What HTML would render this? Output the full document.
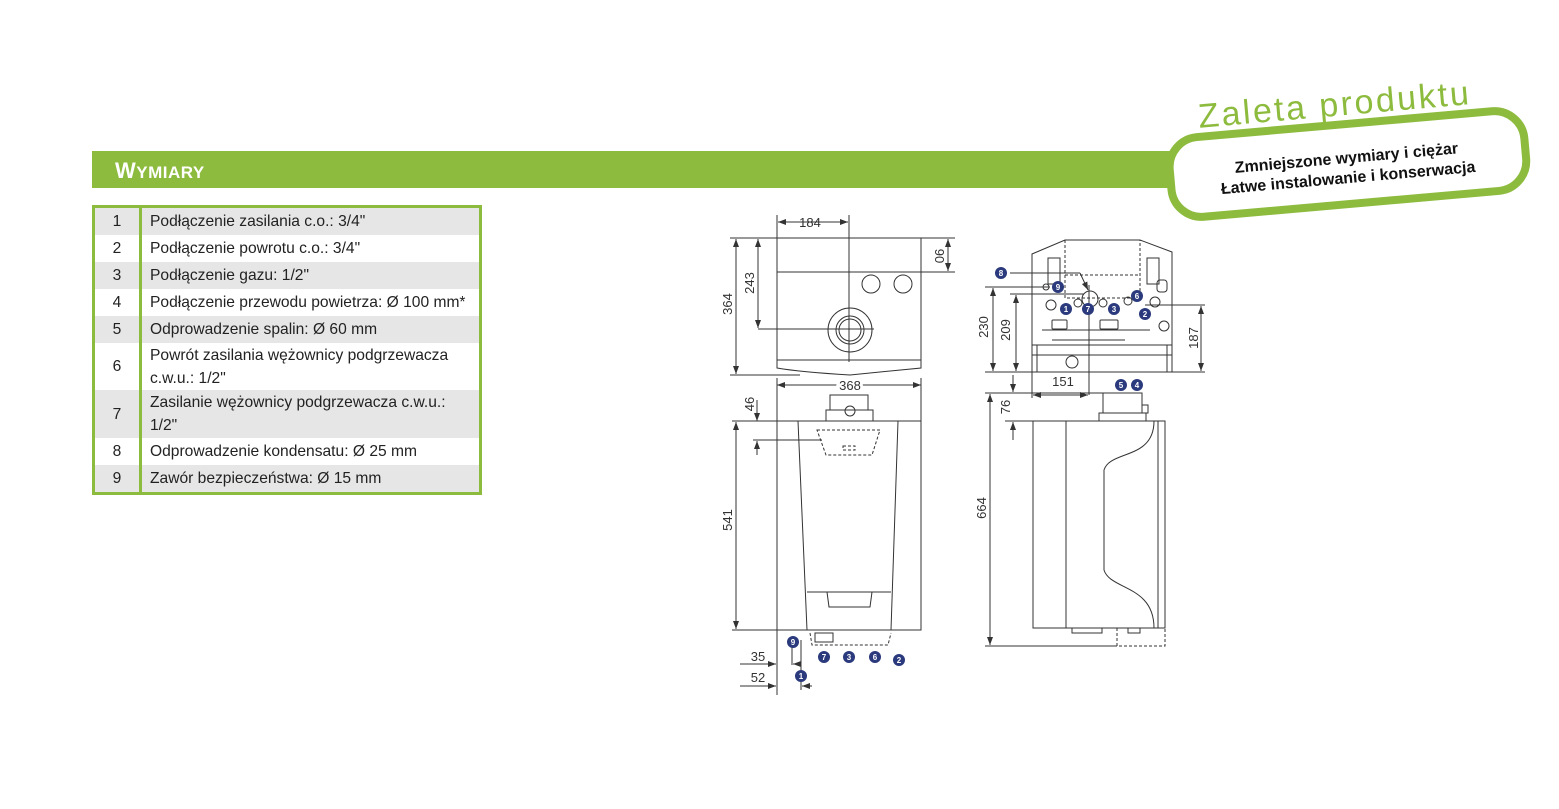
<!DOCTYPE html>
<html><head><meta charset="utf-8"><style>
html,body{margin:0;padding:0;background:#fff;width:1559px;height:809px;overflow:hidden;position:relative;font-family:"Liberation Sans",sans-serif}
.bar{position:absolute;left:92px;top:151px;width:1100px;height:37px;background:#8dbb3e}
.bar span{position:absolute;left:23px;top:7px;color:#fff;font-weight:bold;font-size:22px;letter-spacing:0.5px}
.bar small{font-size:17px}
table{position:absolute;left:92px;top:205px;width:390px;border-collapse:collapse;table-layout:fixed;border:3px solid #8dbb3e;font-size:15.6px;color:#222}
td{padding:0 0 0 8px;line-height:23px;height:27px;white-space:nowrap}
td.n{padding:0;text-align:center;border-right:3px solid #8dbb3e}
tr.g td{background:#e6e6e6}
svg{position:absolute;left:0;top:0}
</style></head><body>
<div class="bar"><span>W<small>YMIARY</small></span></div>
<table>
<colgroup><col style="width:47px"><col></colgroup>
<tr class="g"><td class="n">1</td><td>Podłączenie zasilania c.o.: 3/4"</td></tr>
<tr><td class="n">2</td><td>Podłączenie powrotu c.o.: 3/4"</td></tr>
<tr class="g"><td class="n">3</td><td>Podłączenie gazu: 1/2"</td></tr>
<tr><td class="n">4</td><td>Podłączenie przewodu powietrza: Ø 100 mm*</td></tr>
<tr class="g"><td class="n">5</td><td>Odprowadzenie spalin: Ø 60 mm</td></tr>
<tr><td class="n">6</td><td style="height:47px">Powrót zasilania wężownicy podgrzewacza<br>c.w.u.: 1/2"</td></tr>
<tr class="g"><td class="n">7</td><td style="height:48px">Zasilanie wężownicy podgrzewacza c.w.u.:<br>1/2"</td></tr>
<tr><td class="n">8</td><td>Odprowadzenie kondensatu: Ø 25 mm</td></tr>
<tr class="g"><td class="n">9</td><td>Zawór bezpieczeństwa: Ø 15 mm</td></tr>
</table>
<svg width="1559" height="809" font-family="Liberation Sans, sans-serif">
<defs>
<marker id="a" markerWidth="8" markerHeight="6" refX="8" refY="3" orient="auto-start-reverse"><path d="M0,0L8,3L0,6z" fill="#333"/></marker>
</defs>
<g transform="rotate(-5 1348 165)">
<rect x="1170" y="124" width="356" height="80" rx="30" fill="#fff" stroke="#8dbb3e" stroke-width="8"/>
<text x="1340" y="115" font-size="34" fill="#8dbb3e" text-anchor="middle" letter-spacing="2.5">Zaleta produktu</text>
<text x="1347" y="163" font-size="16" font-weight="bold" text-anchor="middle" fill="#111">Zmniejszone wymiary i ciężar</text>
<text x="1347" y="183" font-size="16" font-weight="bold" text-anchor="middle" fill="#111">Łatwe instalowanie i konserwacja</text>
</g>
<g stroke="#333" fill="none" stroke-width="1">
<path d="M777,238H921V368Q880,372 850,375Q800,372 777,368Z"/>
<line x1="777" y1="272" x2="921" y2="272"/><line x1="777" y1="360" x2="921" y2="360"/>
<circle cx="871" cy="284" r="9"/><circle cx="903" cy="284" r="9"/>
<circle cx="850" cy="330" r="22"/><circle cx="850" cy="330" r="14"/><circle cx="850" cy="330" r="11"/>
<line x1="849" y1="215" x2="849" y2="362"/><line x1="758" y1="329" x2="874" y2="329"/>
<line x1="778" y1="222" x2="848" y2="222" marker-start="url(#a)" marker-end="url(#a)"/>
<line x1="777" y1="215" x2="777" y2="238"/>
<line x1="921" y1="238" x2="955" y2="238"/><line x1="921" y1="272" x2="955" y2="272"/>
<line x1="948" y1="239" x2="948" y2="271" marker-start="url(#a)" marker-end="url(#a)"/>
<line x1="730" y1="238" x2="777" y2="238"/><line x1="730" y1="375" x2="800" y2="375"/>
<line x1="736" y1="239" x2="736" y2="374" marker-start="url(#a)" marker-end="url(#a)"/>
<line x1="758" y1="239" x2="758" y2="328" marker-start="url(#a)" marker-end="url(#a)"/>
<line x1="777" y1="385" x2="921" y2="385" marker-start="url(#a)" marker-end="url(#a)"/>
<line x1="777" y1="378" x2="777" y2="421"/><line x1="921" y1="378" x2="921" y2="421"/>
<rect x="777" y="421" width="144" height="209"/>
<rect x="830" y="395" width="38" height="15"/><rect x="826" y="410" width="47" height="11"/>
<circle cx="850" cy="411" r="5"/>
<path d="M798,421L807,630M898,421L891,630M807,592H891M827,592L829,607H870L872,592"/>
<path d="M817,430H880L872,455H826Z M843,446h12v4h-12z" stroke-dasharray="3,2"/>
<path d="M810,633L812,645H888L891,633" stroke-dasharray="3,2"/>
<rect x="815" y="633" width="18" height="9"/>
<line x1="732" y1="421" x2="777" y2="421"/><line x1="732" y1="630" x2="777" y2="630"/>
<line x1="736" y1="422" x2="736" y2="629" marker-start="url(#a)" marker-end="url(#a)"/>
<line x1="753" y1="440" x2="822" y2="440"/>
<line x1="757" y1="400" x2="757" y2="421" marker-end="url(#a)"/><line x1="757" y1="455" x2="757" y2="441" marker-end="url(#a)"/>
<line x1="777" y1="630" x2="777" y2="695"/><line x1="792" y1="645" x2="792" y2="665"/><line x1="801" y1="640" x2="801" y2="690"/>
<line x1="740" y1="664" x2="776" y2="664" marker-end="url(#a)"/><line x1="800" y1="664" x2="793" y2="664" marker-end="url(#a)"/>
<line x1="740" y1="686" x2="776" y2="686" marker-end="url(#a)"/><line x1="812" y1="686" x2="802" y2="686" marker-end="url(#a)"/>
<path d="M1032,372V254L1065,240H1140L1172,252V372Z"/>
<path d="M1065,240V298H1140V240 M1065,275H1140" stroke-dasharray="3,2"/>
<path d="M1032,345H1172M1037,345V372M1167,345V372M1032,355H1172M1042,330H1150M1052,340H1125"/>
<rect x="1052" y="320" width="15" height="9" rx="1"/><rect x="1100" y="320" width="18" height="9" rx="1"/>
<circle cx="1072" cy="362" r="6"/><circle cx="1090" cy="299" r="8"/>
<circle cx="1051" cy="305" r="5"/><circle cx="1078" cy="303" r="4"/><circle cx="1103" cy="303" r="4"/><circle cx="1128" cy="301" r="4"/><circle cx="1155" cy="302" r="5"/><circle cx="1046" cy="287" r="3"/><circle cx="1164" cy="326" r="5"/>
<rect x="1157" y="280" width="10" height="12" rx="3"/><rect x="1048" y="258" width="12" height="26"/><rect x="1147" y="258" width="12" height="26"/>
<line x1="1010" y1="273" x2="1080" y2="273"/><line x1="1080" y1="273" x2="1088" y2="290" marker-end="url(#a)"/>
<line x1="1089" y1="285" x2="1089" y2="395"/>
<line x1="985" y1="287" x2="1050" y2="287"/><line x1="1010" y1="294" x2="1084" y2="294"/><line x1="1145" y1="305" x2="1205" y2="305"/>
<line x1="985" y1="372" x2="1032" y2="372"/><line x1="1172" y1="372" x2="1205" y2="372"/>
<line x1="993" y1="288" x2="993" y2="371" marker-start="url(#a)" marker-end="url(#a)"/>
<line x1="1016" y1="295" x2="1016" y2="371" marker-start="url(#a)" marker-end="url(#a)"/>
<line x1="1201" y1="306" x2="1201" y2="371" marker-start="url(#a)" marker-end="url(#a)"/>
<line x1="1033" y1="395" x2="1088" y2="395" marker-start="url(#a)" marker-end="url(#a)"/><line x1="1032" y1="372" x2="1032" y2="398"/>
<rect x="1033" y="421" width="132" height="207"/>
<line x1="1066" y1="421" x2="1066" y2="628"/><line x1="1158" y1="421" x2="1158" y2="628"/>
<path d="M1154,421C1154,460 1110,450 1104,470V570C1110,590 1154,585 1154,628"/>
<rect x="1103" y="393" width="39" height="20"/><rect x="1099" y="413" width="47" height="8"/><rect x="1142" y="405" width="6" height="8"/>
<rect x="1072" y="628" width="30" height="5"/><rect x="1128" y="628" width="12" height="5"/>
<path d="M1117,628V646H1165V628" stroke-dasharray="3,2"/>
<line x1="985" y1="393" x2="1103" y2="393"/><line x1="1005" y1="421" x2="1033" y2="421"/><line x1="985" y1="646" x2="1117" y2="646"/>
<line x1="990" y1="394" x2="990" y2="645" marker-start="url(#a)" marker-end="url(#a)"/>
<line x1="1013" y1="375" x2="1013" y2="392" marker-end="url(#a)"/><line x1="1013" y1="440" x2="1013" y2="422" marker-end="url(#a)"/>
</g>
<g font-size="13" fill="#333" text-anchor="middle">
<text x="810" y="227">184</text><text x="850" y="390" style="paint-order:stroke" stroke="#fff" stroke-width="6">368</text>
<text x="1063" y="386">151</text>
<text transform="translate(935,256) rotate(90)">90</text>
<text transform="translate(732,304) rotate(-90)">364</text>
<text transform="translate(754,283) rotate(-90)">243</text>
<text transform="translate(732,520) rotate(-90)">541</text>
<text transform="translate(754,404) rotate(-90)">46</text>
<text transform="translate(988,327) rotate(-90)">230</text>
<text transform="translate(1010,330) rotate(-90)">209</text>
<text transform="translate(1198,338) rotate(-90)">187</text>
<text transform="translate(986,508) rotate(-90)">664</text>
<text transform="translate(1010,407) rotate(-90)">76</text>
<text x="758" y="661">35</text><text x="758" y="682">52</text>
</g>
<g font-size="8" font-weight="bold" fill="#fff" text-anchor="middle">
<g fill="#2b3a7d"><circle cx="793" cy="642" r="6"/><circle cx="824" cy="657" r="6"/><circle cx="849" cy="657" r="6"/><circle cx="875" cy="657" r="6"/><circle cx="899" cy="660" r="6"/><circle cx="801" cy="676" r="6"/>
<circle cx="1001" cy="273" r="6"/><circle cx="1058" cy="287" r="6"/><circle cx="1066" cy="309" r="6"/><circle cx="1088" cy="309" r="6"/><circle cx="1114" cy="309" r="6"/><circle cx="1137" cy="296" r="6"/><circle cx="1145" cy="314" r="6"/><circle cx="1121" cy="385" r="6"/><circle cx="1137" cy="385" r="6"/></g>
<text x="793" y="645">9</text><text x="824" y="660">7</text><text x="849" y="660">3</text><text x="875" y="660">6</text><text x="899" y="663">2</text><text x="801" y="679">1</text>
<text x="1001" y="276">8</text><text x="1058" y="290">9</text><text x="1066" y="312">1</text><text x="1088" y="312">7</text><text x="1114" y="312">3</text><text x="1137" y="299">6</text><text x="1145" y="317">2</text><text x="1121" y="388">5</text><text x="1137" y="388">4</text>
</g>
</svg>
</body></html>
